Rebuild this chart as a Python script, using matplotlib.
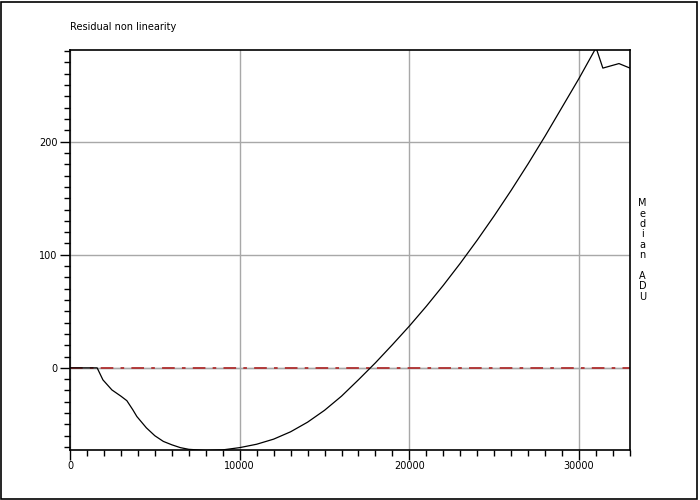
import numpy as np
import matplotlib.pyplot as plt
from matplotlib.ticker import MultipleLocator
from matplotlib.patches import Rectangle

# Residual non linearity
median_adu = [0, 1600, 1940, 2470, 3000, 3350, 3700, 3940, 4500, 5000, 5500, 6000,
              6500, 7000, 8000, 9000, 10000, 11000, 12000, 13000, 14000, 15000,
              16000, 17000, 17700, 18000, 19000, 20000, 21000, 22000, 23000,
              24000, 25000, 26000, 27000, 28000, 29000, 30000, 31000, 31400,
              32350, 33000]
residual = [0, 0, -10.6, -19.5, -25, -29, -37, -43, -53, -60, -65, -68,
            -70.5, -72, -73, -72.5, -70.5, -67.5, -63, -56.5, -48, -37.5,
            -25, -10.5, 0, 4.5, 20.5, 37, 54.5, 73, 92.5,
            113, 134.5, 157, 180.5, 205, 230.5, 256, 283, 265,
            269, 265]

plt.rcParams["font.family"] = "DejaVu Sans"
plt.rcParams["font.size"] = 7

fig = plt.figure(figsize=(7, 5), dpi=100)
fig.patches.append(Rectangle((0.002, 0.003), 0.994, 0.994, transform=fig.transFigure,
                             fill=False, edgecolor="black", linewidth=1.2))
ax = fig.add_axes([0.1, 0.1, 0.8, 0.8])

ax.grid(True, color="#a8a8a8", linewidth=1)
ax.set_axisbelow(True)
ax.axhline(0, color="#a8a8a8", linewidth=1, zorder=1)
ax.axhline(0, color="#b03030", linewidth=1.3, linestyle=(0, (7, 4, 2, 4)), zorder=2)
ax.plot(median_adu, residual, color="black", linewidth=0.9, zorder=3)

ax.set_xlim(0, 33000)
ax.set_ylim(-72.6, 281)
ax.xaxis.set_major_locator(MultipleLocator(10000))
ax.xaxis.set_minor_locator(MultipleLocator(1000))
ax.yaxis.set_major_locator(MultipleLocator(100))
ax.yaxis.set_minor_locator(MultipleLocator(10))
ax.tick_params(which="major", length=7, width=1, direction="out", pad=2)
ax.tick_params(axis="x", which="major", pad=1)
ax.tick_params(which="minor", length=4, width=1, direction="out")
for s in ax.spines.values():
    s.set_linewidth(1.2)

ax.text(0, 1.045, "Residual non linearity", transform=ax.transAxes,
        ha="left", va="bottom", fontsize=7)
fig.text(0.918, 0.5, "M\ne\nd\ni\na\nn\n\nA\nD\nU", ha="center", va="center",
         fontsize=7, linespacing=1.05)

fig.savefig("out.png", dpi=100)
